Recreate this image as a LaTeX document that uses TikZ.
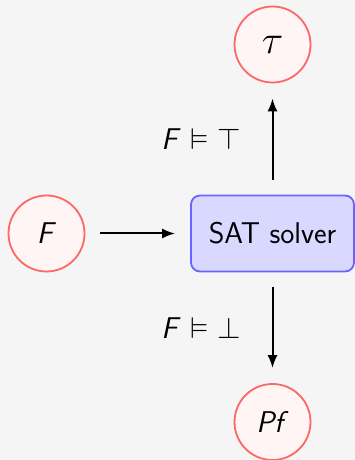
\RequirePackage{fix-cm}
\documentclass[tikz,border=0pt]{standalone}
\usepackage{amsmath}
\usepackage{amssymb}
\usepackage{tikz}
\usepackage{xcolor}
\usetikzlibrary{arrows.meta}

\definecolor{fundo}{HTML}{F5F5F5}
\tikzset{
  estado/.style={circle, draw=red!60, fill=red!4, line width=1.8pt, minimum size=76pt, inner sep=0pt},
  caixa/.style={rectangle, rounded corners=9pt, draw=blue!60, fill=blue!15, line width=1.8pt, minimum width=163pt, minimum height=76pt},
  seta/.style={-{Latex[length=13pt,width=10pt]}, line width=2pt, shorten >=15pt, shorten <=15pt}
}

\begin{document}
\begin{tikzpicture}[x=1pt, y=1pt, font=\fontsize{30}{36}\selectfont\sffamily]
\fill[fundo] (0,0) rectangle (355,460);
\useasboundingbox (0,0) rectangle (355,460);

% Entrada e resolvedor
\node[estado] (F) at (46.5,226.5) {\textit{F}};
\node[caixa] (sat) at (272.5,226.5) {SAT solver};
\draw[seta] (F) -- (sat);

% Saidas
\node[estado, font=\fontsize{40}{48}\selectfont] (tau) at (272.5,415.5) {$\tau$};
\node[estado] (pf) at (272.5,38) {\textit{Pf}};
\draw[seta] (sat) -- (tau) node[midway, left=27pt] {\textit{F}~$\vDash$~$\top$};
\draw[seta] (sat) -- (pf) node[midway, left=27pt] {\textit{F}~$\vDash$~$\bot$};
\end{tikzpicture}
\end{document}
